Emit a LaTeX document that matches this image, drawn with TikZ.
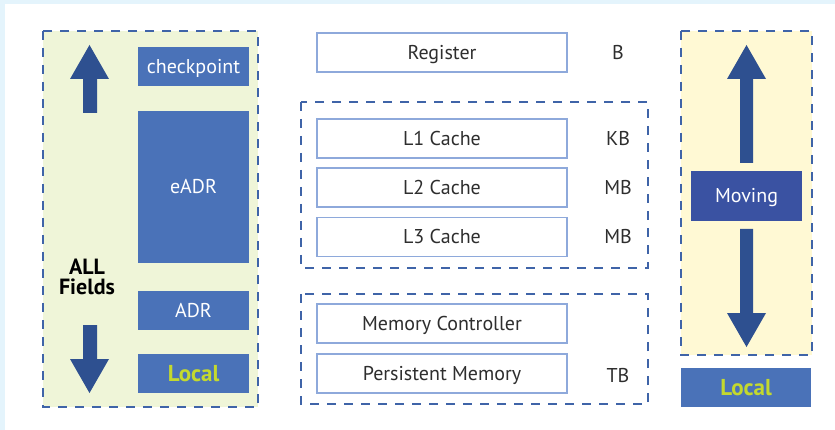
\documentclass[tikz,border=0pt]{standalone}
\usepackage{fontspec}
\setmainfont{PT Sans}
\definecolor{boxblue}{HTML}{4A72B8}
\definecolor{arrowblue}{HTML}{2E5090}
\definecolor{moveblue}{HTML}{3A52A2}
\definecolor{greenfill}{HTML}{EFF5D8}
\definecolor{yellowfill}{HTML}{FFF9D4}
\definecolor{lightborder}{HTML}{8EA9DB}
\definecolor{dashblue}{HTML}{3F64A8}
\definecolor{localtext}{HTML}{C4D92E}
\definecolor{bgblue}{HTML}{E4F4FC}
\definecolor{txt}{HTML}{2E2E2E}
\tikzset{
  bluebox/.style={fill=boxblue, draw=none, text=white, inner sep=0pt, minimum width=111pt, minimum height=39pt, font=\fontsize{20}{22}\selectfont, text height=14pt, text depth=0pt},
  localbox/.style={bluebox, text=localtext, font=\fontsize{23}{25}\selectfont\bfseries, text height=16pt},
  levelbox/.style={draw=lightborder, line width=1.2pt, fill=white, text=txt, inner sep=0pt, minimum width=250pt, minimum height=39pt, font=\fontsize{20}{22}\selectfont, text height=14pt, text depth=0pt},
  unitlabel/.style={text=txt, inner sep=0pt, font=\fontsize{20}{22}\selectfont, text height=14pt, text depth=0pt},
  dashbox/.style={draw=dashblue, dash pattern=on 9pt off 8pt},
  bigarrow/.style={fill=arrowblue, draw=none},
}
\begin{document}
\begin{tikzpicture}[x=1pt,y=-1pt]
\useasboundingbox (0,0) rectangle (835,430);
\fill[bgblue] (0,0) rectangle (835,430);
\fill[white] (5,4) rectangle (835,430);

% left container
\draw[dashbox, fill=greenfill, line width=2pt] (43,31) rectangle (258,407);
\node[bluebox] (chk) at (193.5,66.5) {checkpoint};
\node[bluebox, minimum height=152pt] (eadr) at (193.5,187) {eADR};
\node[bluebox] (adr) at (193.5,310.5) {ADR};
\node[localbox] (loc1) at (193.5,373.5) {Local};
\node[text=black, align=center, inner sep=0pt, font=\fontsize{22}{20}\selectfont\bfseries] (all) at (87,277) {ALL\\Fields};
\fill[bigarrow] (89.5,45) -- (109,79) -- (97,79) -- (97,113) -- (83,113) -- (83,79) -- (70,79) -- cycle;
\fill[bigarrow] (89.5,393) -- (109,359) -- (97,359) -- (97,325) -- (83,325) -- (83,359) -- (70,359) -- cycle;

% middle
\draw[dashbox, line width=1.3pt] (301,102) rectangle (648,268);
\draw[dashbox, line width=1.3pt] (301,294) rectangle (648,404);
\node[levelbox] (reg) at (442,52.5) {Register};
\node[levelbox] (l1) at (442,138.5) {L1 Cache};
\node[levelbox] (l2) at (442,187.5) {L2 Cache};
\node[levelbox] (l3) at (442,237) {L3 Cache};
\node[levelbox] (mc) at (442,323.5) {Memory Controller};
\node[levelbox] (pm) at (442,373.5) {Persistent Memory};
\node[unitlabel] (ub) at (618,53) {B};
\node[unitlabel] (ukb) at (618,139) {KB};
\node[unitlabel] (umb2) at (618,188) {MB};
\node[unitlabel] (umb3) at (618,237) {MB};
\node[unitlabel] (utb) at (618,375) {TB};

% right
\draw[dashbox, fill=yellowfill, line width=1.6pt] (681,31) rectangle (812,355);
\fill[bigarrow] (746.5,45) -- (766,79) -- (753,79) -- (753,163) -- (740,163) -- (740,79) -- (727,79) -- cycle;
\fill[bigarrow] (746.5,347) -- (766,313) -- (753,313) -- (753,229) -- (740,229) -- (740,313) -- (727,313) -- cycle;
\node[bluebox, fill=moveblue, minimum height=50pt] (mov) at (746.5,196) {Moving};
\node[localbox, minimum width=130pt] (loc2) at (746,387.5) {Local};
\end{tikzpicture}
\end{document}
